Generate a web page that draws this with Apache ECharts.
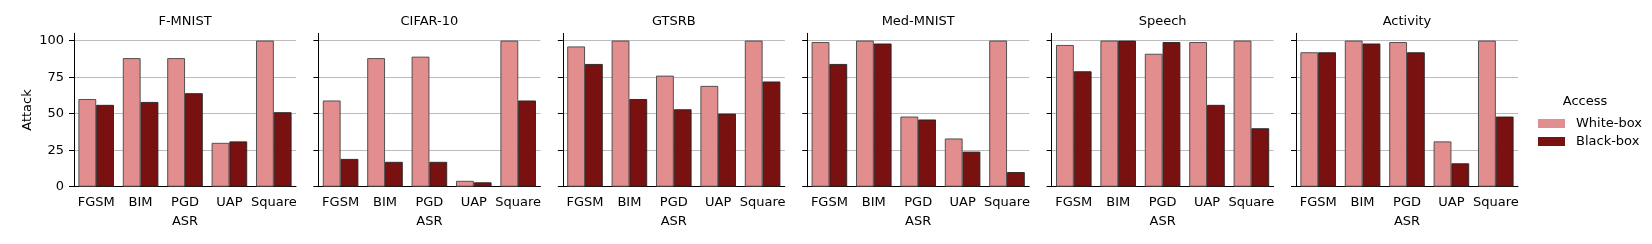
<!DOCTYPE html>
<html><head><meta charset="utf-8">
<script src="https://cdn.jsdelivr.net/npm/echarts@6/dist/echarts.min.js"></script>
<style>html,body{margin:0;padding:0;background:#fff}#c{width:1652px;height:244px}</style>
</head><body><div id="c"></div>
<script>
const categories = ['FGSM', 'BIM', 'PGD', 'UAP', 'Square'];
const panelTitles = ['F-MNIST', 'CIFAR-10', 'GTSRB', 'Med-MNIST', 'Speech', 'Activity'];
const yTicks = [0, 25, 50, 75, 100];

const fmnistWhite   = [60, 88, 88, 30, 100];
const fmnistBlack   = [56, 58, 64, 31, 51];
const cifarWhite    = [59, 88, 89, 4, 100];
const cifarBlack    = [19, 17, 17, 3, 59];
const gtsrbWhite    = [96, 100, 76, 69, 100];
const gtsrbBlack    = [84, 60, 53, 50, 72];
const medmnistWhite = [99, 100, 48, 33, 100];
const medmnistBlack = [84, 98, 46, 24, 10];
const speechWhite   = [97, 100, 91, 99, 100];
const speechBlack   = [79, 100, 99, 56, 40];
const activityWhite = [92, 100, 99, 31, 100];
const activityBlack = [92, 98, 92, 16, 48];

const whiteSets = [fmnistWhite, cifarWhite, gtsrbWhite, medmnistWhite, speechWhite, activityWhite];
const blackSets = [fmnistBlack, cifarBlack, gtsrbBlack, medmnistBlack, speechBlack, activityBlack];

const FONT = 'DejaVu Sans';
const left0 = 74, step = 244.4, pw = 222, gridTop = 33.3, ph = 153.4;
const whiteColor = '#e28d8e', blackColor = '#7a1111';

const grids = [], xAxes = [], yAxes = [], series = [], graphics = [];
for (let i = 0; i < 6; i++) {
  const L = left0 + i * step;
  grids.push({ left: L, top: gridTop, width: pw, height: ph, containLabel: false });
  xAxes.push({
    type: 'category', gridIndex: i, data: categories,
    name: 'ASR', nameLocation: 'middle', nameGap: 28,
    nameTextStyle: { fontFamily: FONT, fontSize: 13, color: '#000' },
    axisLine: { lineStyle: { color: '#000', width: 1 } },
    axisTick: { alignWithLabel: true, length: 4, lineStyle: { color: '#000' } },
    axisLabel: { fontFamily: FONT, fontSize: 13, color: '#000', margin: 9.5, interval: 0 },
    splitLine: { show: false }
  });
  yAxes.push({
    type: 'value', gridIndex: i, min: 0, max: 105,
    name: i === 0 ? 'Attack' : '', nameLocation: 'middle', nameGap: 40,
    nameTextStyle: { fontFamily: FONT, fontSize: 13, color: '#000' },
    axisLine: { show: true, lineStyle: { color: '#000', width: 1 } },
    axisTick: { show: true, length: 5, customValues: yTicks, lineStyle: { color: '#000' } },
    axisLabel: { show: i === 0, customValues: yTicks, fontFamily: FONT, fontSize: 13, color: '#000', margin: 10 },
    splitLine: { show: true, lineStyle: { color: '#bcbcbc', width: 1.1 } }
  });
  series.push({
    name: 'White-box', type: 'bar', xAxisIndex: i, yAxisIndex: i, data: whiteSets[i],
    barGap: '0%', barCategoryGap: '20%',
    itemStyle: { color: whiteColor, borderColor: '#444', borderWidth: 0.9 }
  });
  series.push({
    name: 'Black-box', type: 'bar', xAxisIndex: i, yAxisIndex: i, data: blackSets[i],
    barGap: '0%', barCategoryGap: '20%',
    itemStyle: { color: blackColor, borderColor: '#222', borderWidth: 0.9 }
  });
  graphics.push({
    type: 'text', x: L + pw / 2, y: 21.5,
    style: { text: panelTitles[i], font: '13px "DejaVu Sans"', fill: '#000', align: 'center', verticalAlign: 'middle' }
  });
}
graphics.push({
  type: 'text', x: 1585, y: 101.5,
  style: { text: 'Access', font: '13px "DejaVu Sans"', fill: '#000', align: 'center', verticalAlign: 'middle' }
});

const chart = echarts.init(document.getElementById('c'), null, { renderer: 'canvas' });
chart.setOption({
  animation: false,
  backgroundColor: '#fff',
  grid: grids, xAxis: xAxes, yAxis: yAxes, series: series,
  graphic: graphics,
  legend: {
    data: [
      { name: 'White-box', itemStyle: { borderWidth: 0 } },
      { name: 'Black-box', itemStyle: { borderWidth: 0 } }
    ],
    orient: 'vertical', left: 1533, top: 112, itemWidth: 27, itemHeight: 9, itemGap: 5,
    icon: 'rect', selectedMode: false,
    textStyle: { fontFamily: FONT, fontSize: 13, color: '#000', padding: [0, 0, 0, 6] }
  }
});
</script></body></html>
